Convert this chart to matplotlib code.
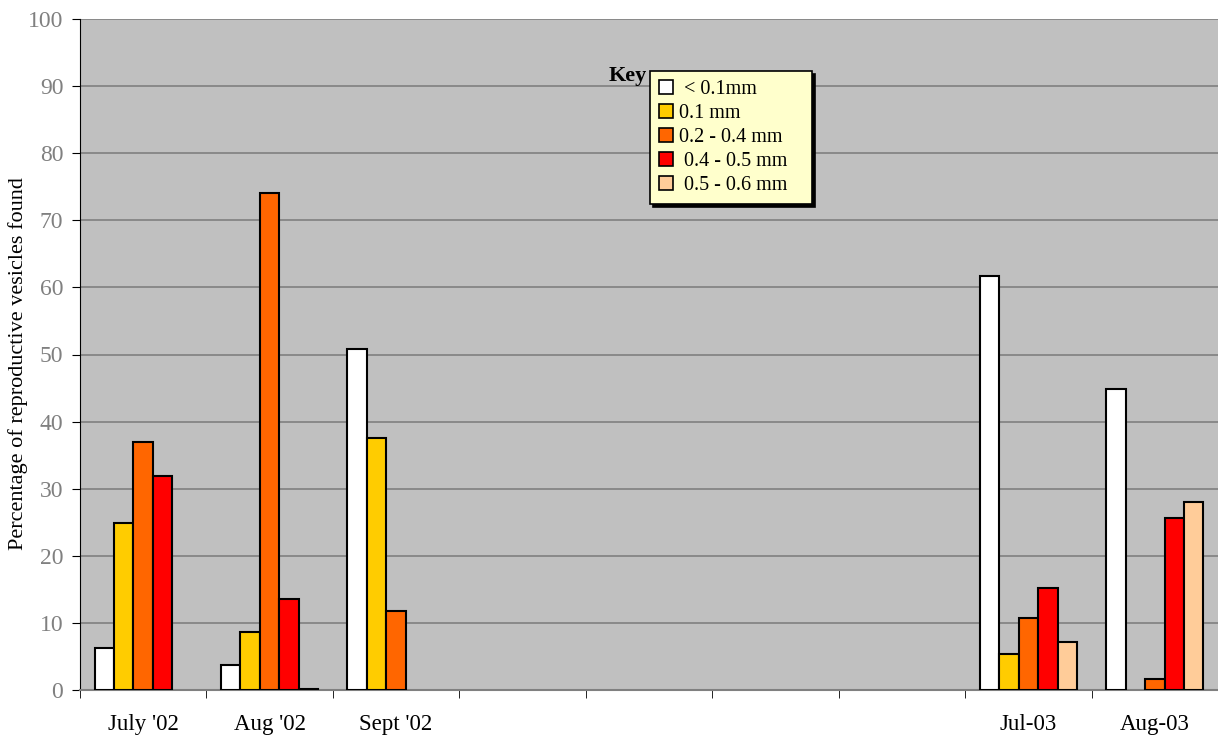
import numpy as np
import matplotlib
matplotlib.use("Agg")
import matplotlib.pyplot as plt
from matplotlib.patches import Patch

plt.rcParams['font.family'] = ['Liberation Serif', 'DejaVu Serif']

categories = ["July '02", "Aug '02", "Sept '02", "", "", "", "", "Jul-03", "Aug-03"]
size_labels = [" < 0.1mm", "0.1 mm", "0.2 - 0.4 mm", " 0.4 - 0.5 mm", " 0.5 - 0.6 mm"]
colors = ["#FFFFFF", "#FFCC00", "#FF6600", "#FF0000", "#FFCC99"]

# percentage per size class; None = no bar for that month
lt_01mm   = [6.2, 3.7, 50.8, None, None, None, None, 61.7, 44.8]
mm_01     = [24.9, 8.7, 37.5, None, None, None, None, 5.4, None]
mm_02_04  = [37.0, 74.0, 11.7, None, None, None, None, 10.7, 1.7]
mm_04_05  = [31.9, 13.6, None, None, None, None, None, 15.2, 25.7]
mm_05_06  = [None, 0.2, None, None, None, None, None, 7.2, 28.0]
series = [lt_01mm, mm_01, mm_02_04, mm_04_05, mm_05_06]

fig = plt.figure(figsize=(12.18, 7.38), dpi=100)
ax = fig.add_axes([80 / 1218, 1 - 690 / 738, 1138 / 1218, 671 / 738])
ax.set_facecolor("#C0C0C0")

x = np.arange(len(categories))
width = 0.154
for i, (vals, col) in enumerate(zip(series, colors)):
    offset = (i - 2) * width
    xs = [xi + offset for xi, v in zip(x, vals) if v is not None]
    hs = [v for v in vals if v is not None]
    ax.bar(xs, hs, width=width, color=col, edgecolor="black", linewidth=1.5, zorder=3)

ax.set_xlim(-0.5, len(categories) - 0.5)
ax.set_ylim(0, 100)
ax.set_yticks(np.arange(0, 101, 10))
ax.yaxis.grid(True, color="#808080", linewidth=1.2, zorder=0)
ax.set_axisbelow(True)

ax.set_xticks(x)
ax.set_xticklabels(categories, fontsize=16.5)
ax.set_xticks(np.arange(-0.5, len(categories), 1), minor=True)
ax.tick_params(axis="x", which="major", length=0, pad=17)
ax.tick_params(axis="x", which="minor", length=6, color="black", direction="out")
ax.tick_params(axis="y", length=6, color="black", labelsize=17, labelcolor="#808080", pad=6)

for s in ["top", "right"]:
    ax.spines[s].set_visible(False)
ax.spines["left"].set_color("black")
ax.spines["bottom"].set_color("#808080")
ax.spines["bottom"].set_linewidth(1.5)

ax.set_ylabel("Percentage of reproductive vesicles found", fontsize=16)
ax.yaxis.set_label_coords((28 - 80) / 1138, (690 - 364) / 671)

fig.text(609 / 1218, 1 - 76 / 738, "Key", fontsize=16, fontweight="bold", va="center", ha="left")

handles = [Patch(facecolor=c, edgecolor="black", linewidth=1.2) for c in colors]
leg = ax.legend(handles, [s + "   " for s in size_labels], loc="upper left",
                bbox_to_anchor=(0.501, 0.922),
                borderaxespad=0, fancybox=False, shadow={"color": "black", "alpha": 1},
                facecolor="#FFFFCC", edgecolor="black", framealpha=1,
                handlelength=0.7, handleheight=0.7, handletextpad=0.3,
                labelspacing=0.24, borderpad=0.45, fontsize=14.5)
leg.get_frame().set_linewidth(1.2)
leg.set_zorder(10)

fig.savefig("out.png", dpi=100, facecolor="white")
